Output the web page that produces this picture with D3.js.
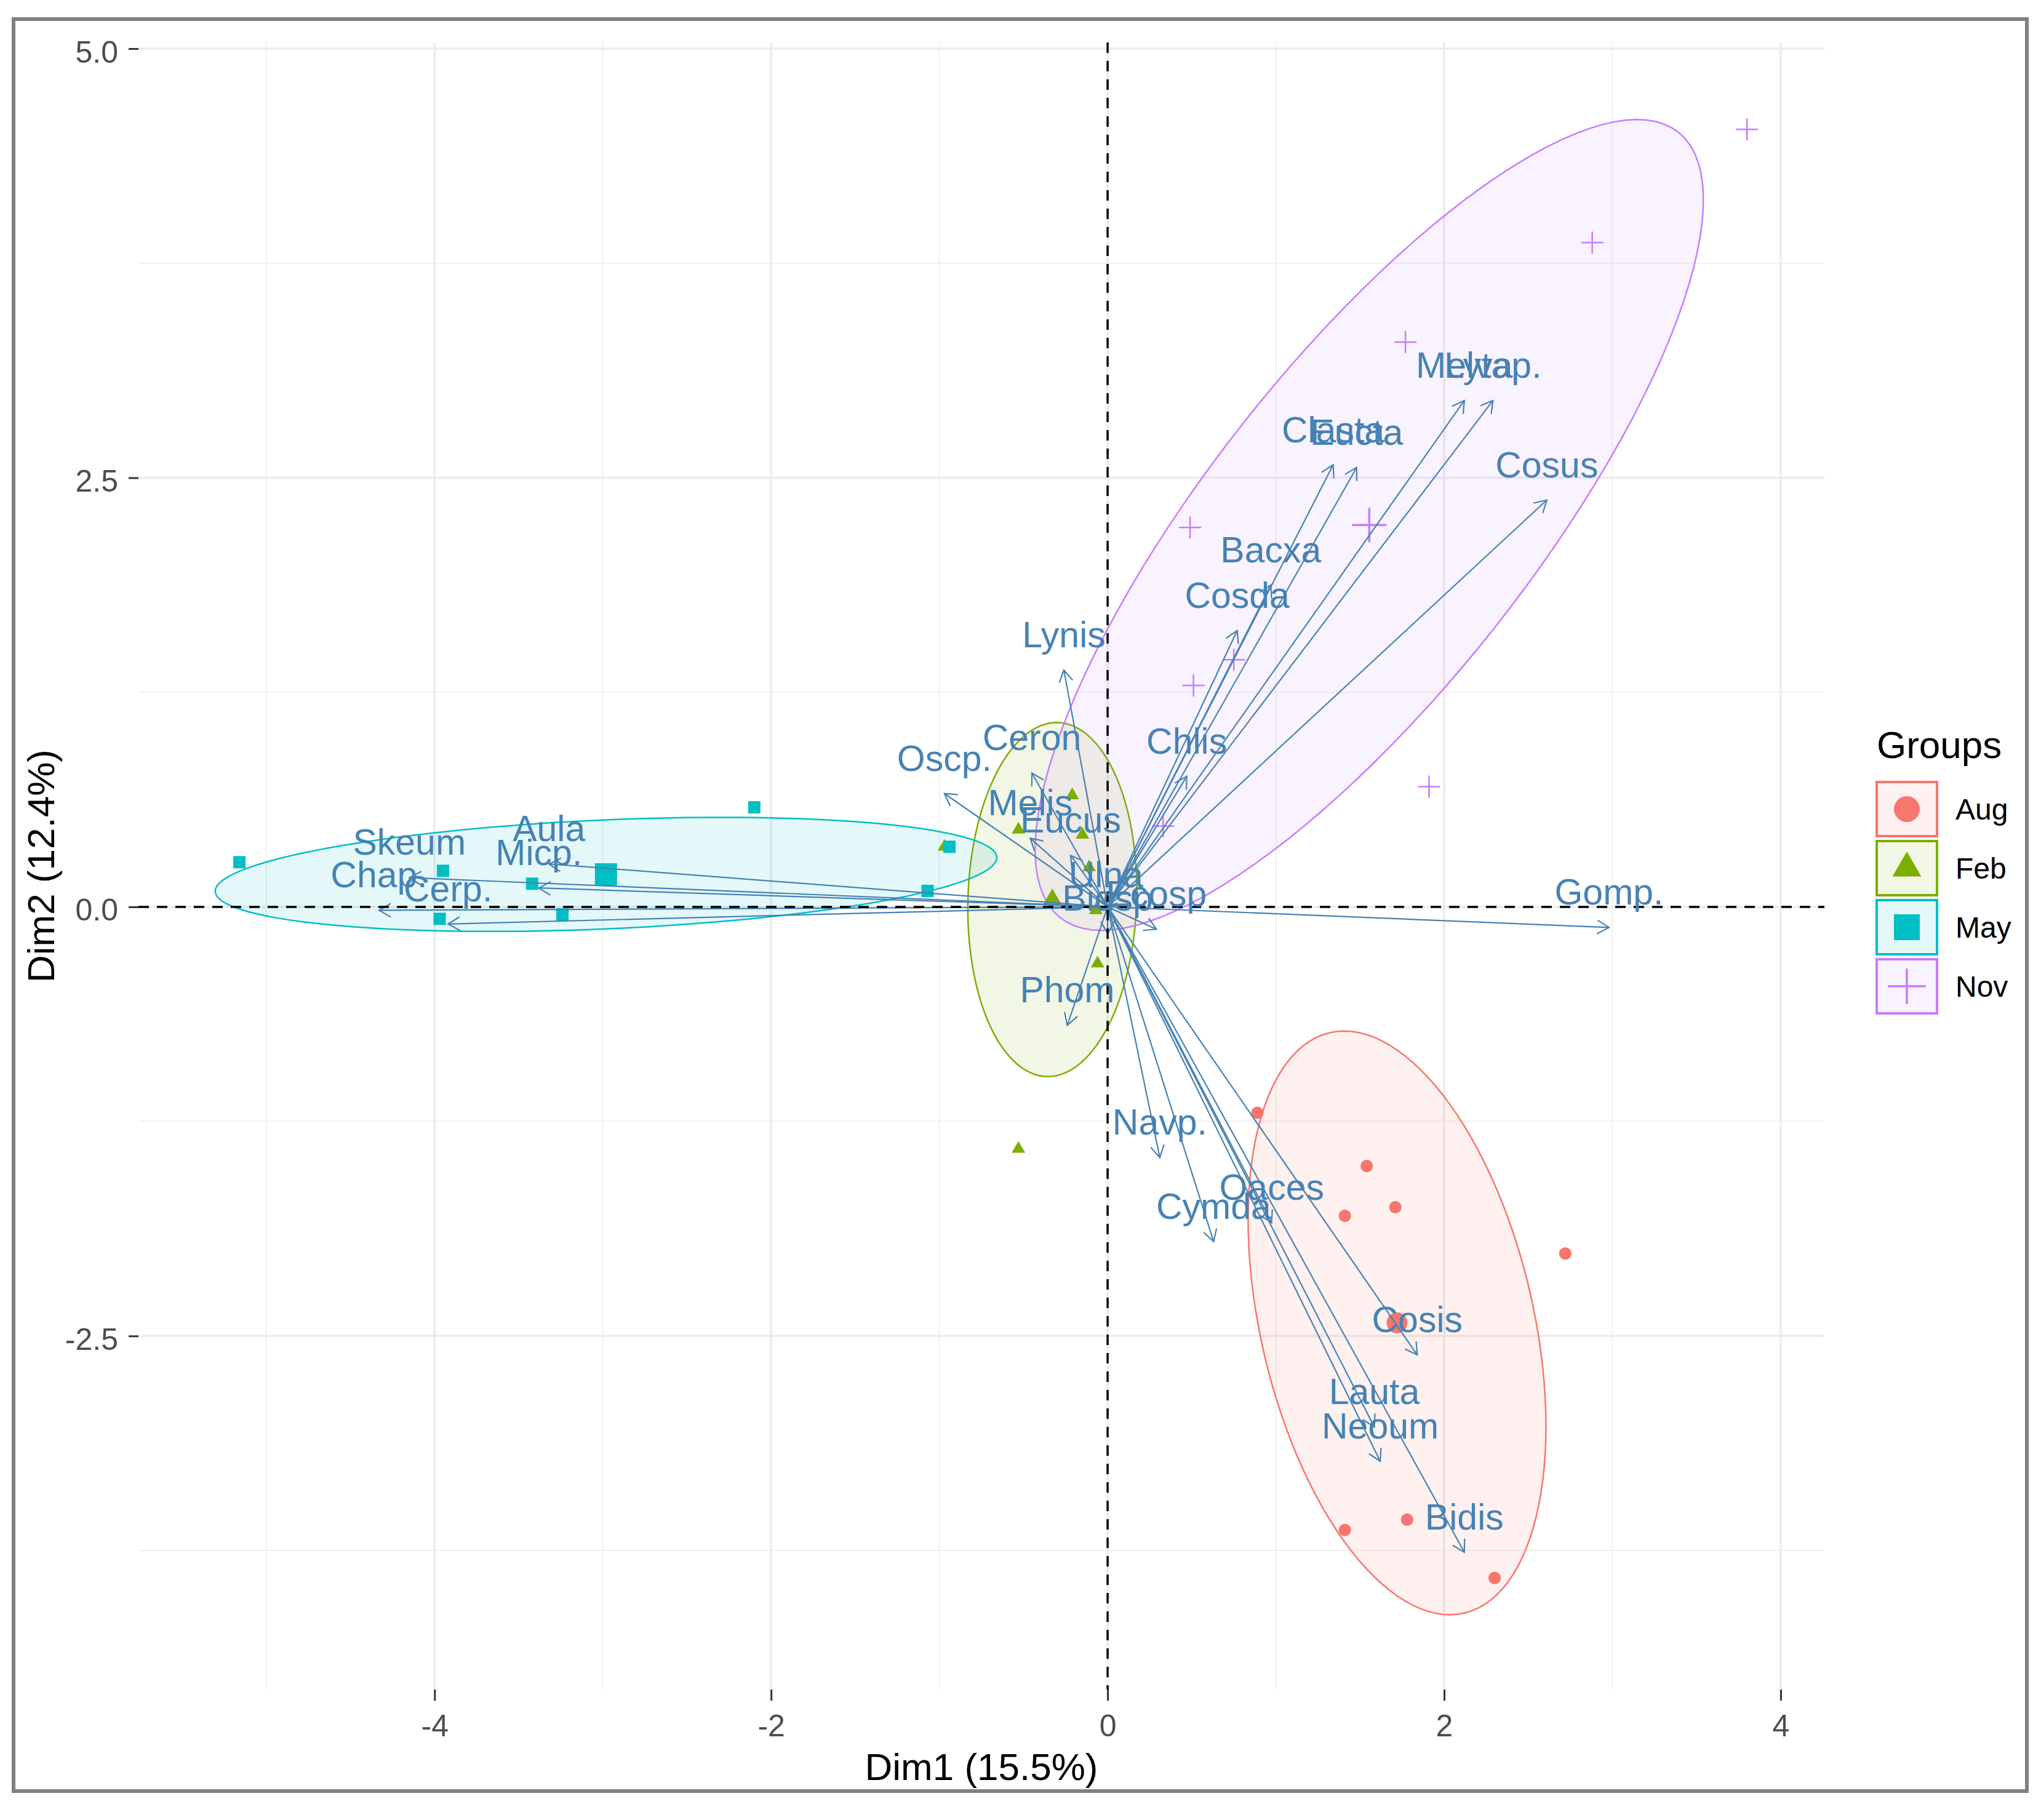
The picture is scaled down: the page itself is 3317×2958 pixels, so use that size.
<!DOCTYPE html>
<html>
<head>
<meta charset="utf-8">
<script src="https://cdn.jsdelivr.net/npm/d3@7"></script>
<style>
    body { margin: 0; background: #fff; }
    svg { display: block; font-family: "Liberation Sans", Arial, sans-serif; }
</style>
</head>
<body>
<svg id="chart" width="3317" height="2958"></svg>
<script>

var groups = ['Aug', 'Feb', 'May', 'Nov'];
var groupColors = ['#F8766D', '#7CAE00', '#00BFC4', '#C77CFF'];

// individuals per group (Dim1, Dim2)
var augX = [0.89, 1.54, 1.41, 1.71, 2.72, 1.78, 1.41, 2.30];
var augY = [-1.20, -1.51, -1.80, -1.75, -2.02, -3.57, -3.63, -3.91];
var febX = [-0.21, -0.53, -0.15, -0.11, -0.97, -0.06, -0.53, -0.07];
var febY = [0.65, 0.45, 0.42, 0.23, 0.35, -0.33, -1.41, -0.02];
var mayX = [-5.16, -3.95, -3.97, -3.42, -3.24, -2.10, -1.07, -0.94];
var mayY = [0.26, 0.21, -0.07, 0.135, -0.044, 0.58, 0.093, 0.35];
var novX = [3.80, 2.88, 1.77, 0.49, 0.75, 0.51, 1.91, 0.33];
var novY = [4.53, 3.87, 3.29, 2.21, 1.44, 1.29, 0.70, 0.47];

// variables (arrow tips)
var varNames = ['Cosus', 'Melva', 'Lytap.', 'Clasta', 'Eucta', 'Bacxa', 'Cosda', 'Chlis',
    'Lynis', 'Ceron', 'Oscp.', 'Melis', 'Eucus', 'Ulna', 'Bidsp', 'Ecosp', 'Phom',
    'Gomp.', 'Navp.', 'Cymda', 'Oaces', 'Cosis', 'Lauta', 'Neoum', 'Bidis',
    'Skeum', 'Aula', 'Micp.', 'Chap.', 'Cerp.'];
var varX = [2.61, 2.12, 2.29, 1.34, 1.48, 0.97, 0.77, 0.47,
    -0.26, -0.45, -0.97, -0.46, -0.22, -0.01, 0.0, 0.29, -0.24,
    2.98, 0.31, 0.63, 0.975, 1.84, 1.585, 1.62, 2.12,
    -4.15, -3.32, -3.38, -4.33, -3.92];
var varY = [2.37, 2.95, 2.95, 2.575, 2.56, 1.875, 1.61, 0.76,
    1.38, 0.78, 0.66, 0.40, 0.30, -0.02, -0.155, -0.13, -0.69,
    -0.12, -1.46, -1.95, -1.84, -2.61, -3.03, -3.23, -3.76,
    0.17, 0.25, 0.11, -0.02, -0.10];

var xTicks = [-4, -2, 0, 2, 4];
var xTickLabels = ['-4', '-2', '0', '2', '4'];
var xMinor = [-5, -3, -1, 1, 3];
var yTicks = [-2.5, 0, 2.5, 5];
var yTickLabels = ['-2.5', '0.0', '2.5', '5.0'];
var yMinor = [-3.75, -1.25, 1.25, 3.75];

var groupX = [augX, febX, mayX, novX];
var groupY = [augY, febY, mayY, novY];

var svg = d3.select('#chart');
var panel = { left: 225, right: 2965, top: 69, bottom: 2746 };

var x = d3.scaleLinear().domain([-5.76, 4.26]).range([panel.left, panel.right]);
var y = d3.scaleLinear().domain([-4.56, 5.036]).range([panel.bottom, panel.top]);

var ellipseScale = 1.56;

var ellipsePoints = function (xs, ys) {

    var n = xs.length,
        mx = d3.mean(xs),
        my = d3.mean(ys),
        sxx = d3.sum(xs, function (v) { return (v - mx) * (v - mx); }) / (n - 1),
        syy = d3.sum(ys, function (v) { return (v - my) * (v - my); }) / (n - 1),
        sxy = d3.sum(xs.map(function (v, i) { return (v - mx) * (ys[i] - my); })) / (n - 1);

    var half = (sxx + syy) / 2,
        diff = Math.sqrt(Math.pow((sxx - syy) / 2, 2) + sxy * sxy),
        a = Math.sqrt(half + diff) * ellipseScale,
        b = Math.sqrt(Math.max(half - diff, 0)) * ellipseScale,
        theta = 0.5 * Math.atan2(2 * sxy, sxx - syy);

    return d3.range(0, 120).map(function (i) {
        var t = i / 120 * 2 * Math.PI,
            ex = a * Math.cos(t),
            ey = b * Math.sin(t);
        return [mx + ex * Math.cos(theta) - ey * Math.sin(theta),
            my + ex * Math.sin(theta) + ey * Math.cos(theta)];
    });

};

svg.append('rect')
    .attr('width', 3317).attr('height', 2958)
    .attr('fill', '#fff');

// grid
var grid = svg.append('g');

grid.selectAll('.xminor').data(xMinor).enter().append('line')
    .attr('x1', function (d) { return x(d); }).attr('x2', function (d) { return x(d); })
    .attr('y1', panel.top).attr('y2', panel.bottom)
    .attr('stroke', '#F0F0F0').attr('stroke-width', 2);

grid.selectAll('.yminor').data(yMinor).enter().append('line')
    .attr('y1', function (d) { return y(d); }).attr('y2', function (d) { return y(d); })
    .attr('x1', panel.left).attr('x2', panel.right)
    .attr('stroke', '#F0F0F0').attr('stroke-width', 2);

grid.selectAll('.xmajor').data(xTicks).enter().append('line')
    .attr('x1', function (d) { return x(d); }).attr('x2', function (d) { return x(d); })
    .attr('y1', panel.top).attr('y2', panel.bottom)
    .attr('stroke', '#EBEBEB').attr('stroke-width', 3.5);

grid.selectAll('.ymajor').data(yTicks).enter().append('line')
    .attr('y1', function (d) { return y(d); }).attr('y2', function (d) { return y(d); })
    .attr('x1', panel.left).attr('x2', panel.right)
    .attr('stroke', '#EBEBEB').attr('stroke-width', 3.5);

// ellipses
var line = d3.line()
    .x(function (d) { return x(d[0]); })
    .y(function (d) { return y(d[1]); })
    .curve(d3.curveLinearClosed);

groups.forEach(function (g, i) {

    svg.append('path')
        .attr('d', line(ellipsePoints(groupX[i], groupY[i])))
        .attr('fill', groupColors[i])
        .attr('fill-opacity', 0.1)
        .attr('stroke', groupColors[i])
        .attr('stroke-width', 2.5);

});

// point shapes
var drawShape = function (sel, gi, cx, cy, big) {

    var color = groupColors[gi];

    if (gi === 3) {
        var h = big ? 28 : 18;
        sel.append('path')
            .attr('d', 'M' + (cx - h) + ',' + cy + 'H' + (cx + h) + 'M' + cx + ',' + (cy - h) + 'V' + (cy + h))
            .attr('stroke', color)
            .attr('stroke-width', big ? 3.5 : 2.5)
            .attr('fill', 'none');
        return;
    }

    var type = [d3.symbolCircle, d3.symbolTriangle, d3.symbolSquare][gi],
        size = big ? [900, 420, 1296][gi] : [320, 210, 400][gi];

    sel.append('path')
        .attr('d', d3.symbol().type(type).size(size)())
        .attr('transform', 'translate(' + cx + ',' + cy + ')')
        .attr('fill', color);

};

var pts = svg.append('g');

groups.forEach(function (g, i) {

    groupX[i].forEach(function (v, j) {
        drawShape(pts, i, x(v), y(groupY[i][j]), false);
    });

    drawShape(pts, i, x(d3.mean(groupX[i])), y(d3.mean(groupY[i])), true);

});

// arrows
var arrows = svg.append('g')
    .attr('stroke', '#4682B4')
    .attr('stroke-width', 2.2)
    .attr('fill', 'none');

varNames.forEach(function (name, i) {

    var x0 = x(0), y0 = y(0),
        tx = x(varX[i]), ty = y(varY[i]),
        ang = Math.atan2(ty - y0, tx - x0),
        len = 22,
        spread = Math.PI / 6;

    arrows.append('line')
        .attr('x1', x0).attr('y1', y0)
        .attr('x2', tx).attr('y2', ty);

    arrows.append('path')
        .attr('d', 'M' + (tx - len * Math.cos(ang - spread)) + ',' + (ty - len * Math.sin(ang - spread)) +
            'L' + tx + ',' + ty +
            'L' + (tx - len * Math.cos(ang + spread)) + ',' + (ty - len * Math.sin(ang + spread)));

});

// dashed reference lines
svg.append('line')
    .attr('x1', panel.left).attr('x2', panel.right)
    .attr('y1', y(0)).attr('y2', y(0))
    .attr('stroke', '#000').attr('stroke-width', 3.5)
    .attr('stroke-dasharray', '17,13');

svg.append('line')
    .attr('x1', x(0)).attr('x2', x(0))
    .attr('y1', panel.top).attr('y2', panel.bottom)
    .attr('stroke', '#000').attr('stroke-width', 3.5)
    .attr('stroke-dasharray', '17,13');

// variable labels
svg.append('g').selectAll('text')
    .data(varNames)
    .enter().append('text')
    .attr('x', function (d, i) { return x(varX[i]); })
    .attr('y', function (d, i) { return y(varY[i]) - 37; })
    .attr('text-anchor', 'middle')
    .attr('font-size', 59)
    .attr('fill', '#4682B4')
    .text(function (d) { return d; });

// axes
var xAxis = svg.append('g')
    .attr('transform', 'translate(0,' + panel.bottom + ')')
    .call(d3.axisBottom(x)
        .tickValues(xTicks)
        .tickFormat(function (d, i) { return xTickLabels[i]; })
        .tickSize(18)
        .tickPadding(22));

var yAxis = svg.append('g')
    .attr('transform', 'translate(' + panel.left + ',0)')
    .call(d3.axisLeft(y)
        .tickValues(yTicks)
        .tickFormat(function (d, i) { return yTickLabels[i]; })
        .tickSize(16)
        .tickPadding(17));

[xAxis, yAxis].forEach(function (ax) {
    ax.select('.domain').remove();
    ax.selectAll('.tick line').attr('stroke', '#333').attr('stroke-width', 3);
    ax.selectAll('.tick text')
        .attr('fill', '#4D4D4D')
        .attr('font-size', 50)
        .attr('font-family', '"Liberation Sans", Arial, sans-serif');
});

yAxis.selectAll('.tick text').attr('dy', '0.44em');

svg.append('text')
    .attr('x', (panel.left + panel.right) / 2)
    .attr('y', 2893)
    .attr('text-anchor', 'middle')
    .attr('font-size', 62)
    .attr('fill', '#000')
    .text('Dim1 (15.5%)');

svg.append('text')
    .attr('transform', 'translate(88,' + (panel.top + panel.bottom) / 2 + ') rotate(-90)')
    .attr('text-anchor', 'middle')
    .attr('font-size', 62)
    .attr('fill', '#000')
    .text('Dim2 (12.4%)');

// legend
var legend = svg.append('g');

legend.append('text')
    .attr('x', 3050)
    .attr('y', 1232)
    .attr('font-size', 62)
    .attr('fill', '#000')
    .text('Groups');

groups.forEach(function (g, i) {

    var top = 1271 + i * 96,
        key = legend.append('g');

    key.append('rect')
        .attr('x', 3050).attr('y', top)
        .attr('width', 98).attr('height', 88)
        .attr('fill', groupColors[i]).attr('fill-opacity', 0.1)
        .attr('stroke', groupColors[i]).attr('stroke-width', 4);

    var cx = 3099, cy = top + 44;

    if (i === 3) {
        key.append('path')
            .attr('d', 'M' + (cx - 31) + ',' + cy + 'H' + (cx + 31) + 'M' + cx + ',' + (cy - 29) + 'V' + (cy + 29))
            .attr('stroke', groupColors[i]).attr('stroke-width', 3.5).attr('fill', 'none');
    } else {
        key.append('path')
            .attr('d', d3.symbol().type([d3.symbolCircle, d3.symbolTriangle, d3.symbolSquare][i])
                .size([1385, 950, 1764][i])())
            .attr('transform', 'translate(' + cx + ',' + cy + ')')
            .attr('fill', groupColors[i]);
    }

    key.append('text')
        .attr('x', 3178)
        .attr('y', cy + 17)
        .attr('font-size', 48)
        .attr('fill', '#000')
        .text(g);

});

// outer frame
svg.append('rect')
    .attr('x', 22).attr('y', 31)
    .attr('width', 3272).attr('height', 2880)
    .attr('fill', 'none')
    .attr('stroke', '#808080')
    .attr('stroke-width', 6);

</script>
</body>
</html>
